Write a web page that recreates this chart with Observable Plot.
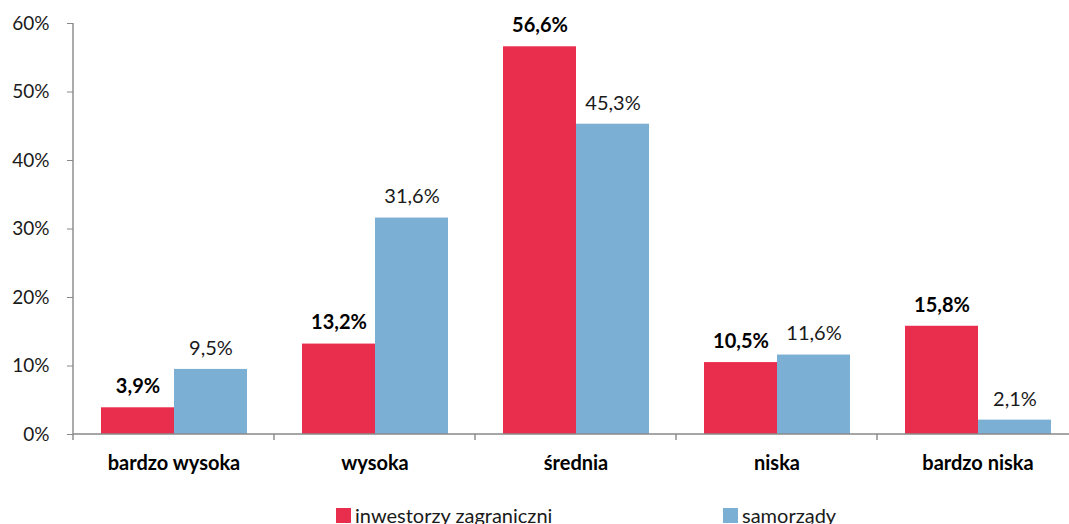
<!DOCTYPE html>
<html>
<head>
<meta charset="utf-8">
<script src="https://cdn.jsdelivr.net/npm/d3@7"></script>
<script src="https://cdn.jsdelivr.net/npm/@observablehq/plot@0.6"></script>
<style>
  body { margin: 0; background: #fff; font-family: Lato, "Noto Sans", sans-serif; }
  #legend { display: flex; margin-left: 336px; padding-top: 3px; font-size: 20px; line-height: 24px; color: #1a1a1a; font-weight: 400; }
  .item { display: flex; align-items: center; }
  .sw { width: 15px; height: 15px; margin-right: 4px; }
</style>
</head>
<body>
<div id="chart"></div>
<div id="legend"></div>
<script>
const categories = ["bardzo wysoka", "wysoka", "średnia", "niska", "bardzo niska"];
const series = ["inwestorzy zagraniczni", "samorządy"];
const inwestorzy = [3.9, 13.2, 56.6, 10.5, 15.8];
const samorzady = [9.5, 31.6, 45.3, 11.6, 2.1];
const yTicks = [0, 10, 20, 30, 40, 50, 60];
const colors = ["#E92E4D", "#7BAFD4"];

const rows = [];
categories.forEach((c, i) => {
  rows.push({category: c, series: series[0], value: inwestorzy[i]});
  rows.push({category: c, series: series[1], value: samorzady[i]});
});
const fmt = v => v.toFixed(1).replace(".", ",") + "%";

const chart = Plot.plot({
  width: 1069,
  height: 500,
  marginLeft: 72,
  marginRight: -9,
  marginTop: 23,
  marginBottom: 66,
  style: {fontFamily: "Lato, 'Noto Sans', sans-serif", fontSize: "17px", color: "#1a1a1a", background: "#fff"},
  fx: {domain: categories, padding: 0, label: null},
  x: {domain: series, paddingInner: 0, paddingOuter: 0.367, axis: null},
  y: {domain: [0, 60], ticks: yTicks, label: null},
  color: {domain: series, range: colors},
  marks: [
    Plot.barY(rows, {fx: "category", x: "series", y: "value", fill: "series"}),
    Plot.text(rows.filter(d => d.series === series[0]), {
      fx: "category", x: "series", y: "value", text: d => fmt(d.value),
      dy: -21, lineAnchor: "middle", fontWeight: "bold", fontSize: 20, fill: "#000"
    }),
    Plot.text(rows.filter(d => d.series === series[1]), {
      fx: "category", x: "series", y: "value", text: d => fmt(d.value),
      dy: -21, lineAnchor: "middle", fontWeight: 400, fontSize: 20, fill: "#1a1a1a"
    }),
    Plot.axisY({ticks: yTicks, tickSize: 6, tickPadding: 18, tickFormat: d => d + "%", fontWeight: 400, fontSize: 19, stroke: "#888", fill: "#1a1a1a"}),
    Plot.axisFx({anchor: "bottom", tickSize: 0, tickPadding: 21, fontWeight: "bold", fontSize: 20, label: null, fill: "#000"})
  ]
});
document.getElementById("chart").appendChild(chart);

// axis lines and category boundary ticks derived from the scales
const fx = chart.scale("fx"), y = chart.scale("y");
const svg = d3.select(chart);
const x0 = fx.apply(categories[0]);
const x1 = fx.apply(categories[categories.length - 1]) + fx.bandwidth;
const g = svg.append("g").attr("stroke", "#888").attr("stroke-width", 1.4);
g.append("line").attr("x1", x0).attr("x2", x0).attr("y1", y.apply(60)).attr("y2", y.apply(0));
g.append("line").attr("x1", x0).attr("x2", x1).attr("y1", y.apply(0)).attr("y2", y.apply(0));
categories.forEach(c => {
  const bx = fx.apply(c);
  g.append("line").attr("x1", bx).attr("x2", bx).attr("y1", y.apply(0)).attr("y2", y.apply(0) + 6);
});

// legend
const legend = d3.select("#legend");
series.forEach((s, i) => {
  const it = legend.append("div").attr("class", "item").style("width", i === 0 ? "387px" : null);
  it.append("div").attr("class", "sw").style("background", colors[i]);
  it.append("span").text(s);
});
</script>
</body>
</html>
